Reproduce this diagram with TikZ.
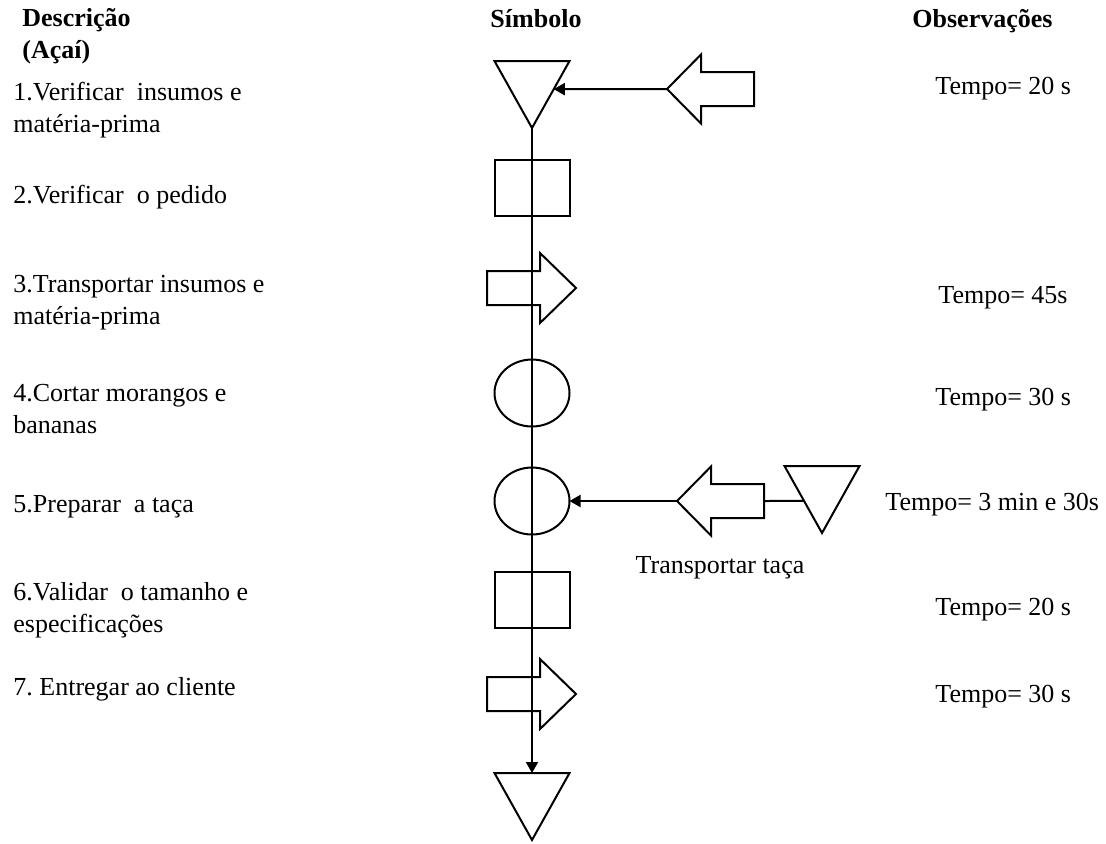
\documentclass[tikz,border=0pt]{standalone}
\usepackage{fontspec}
\setmainfont{Liberation Serif}
\usepackage{tikz}
\usetikzlibrary{shapes.geometric, arrows.meta, positioning, calc}
\frenchspacing

\begin{document}
\begin{tikzpicture}[
    x=0.5pt, y=-0.5pt,
    every node/.style={font=\fontsize{13}{16}\selectfont, inner sep=0pt},
    head/.style={font=\fontsize{13}{16}\selectfont\bfseries},
    desc/.style={anchor=base west, align=left},
    obs/.style={anchor=base west},
    sym/.style={draw, line width=1pt},
    box/.style={sym, rectangle, minimum width=37.5pt, minimum height=28pt, outer sep=0pt},
    oper/.style={sym, ellipse, minimum width=37.5pt, minimum height=33.5pt, outer sep=0pt},
    flow/.style={-{Triangle[length=5.5pt, width=6pt]}, line width=1pt},
    espera/.pic={
        \draw[sym] (-37.5,0) coordinate (-tl) -- (37.5,0) coordinate (-tr)
            -- (0,67) coordinate (-tip) -- cycle;
        \coordinate (-top) at (0,0);
    },
    transp/.pic={
        \draw[sym] (0,0) -- (-36,-35) -- (-36,-17) -- (-89,-17) -- (-89,17)
            -- (-36,17) -- (-36,35) -- cycle;
        \coordinate (-tip) at (0,0);
    },
    transpesq/.pic={
        \draw[sym] (0,0) -- (34,-34.5) -- (34,-17) -- (87,-17) -- (87,17)
            -- (34,17) -- (34,34.5) -- cycle;
        \coordinate (-tip) at (0,0);
        \coordinate (-tail) at (87,0);
    }
]
    \useasboundingbox (0,0) rectangle (1106,843);

    % column headers (base = last line)
    \node[head, desc] (hdesc) at (22,58) {Descrição\\(Açaí)};
    \node[head, anchor=base] (hsimb) at (536,27) {Símbolo};
    \node[head, obs] (hobs) at (912,27) {Observações};

    % symbols
    \pic (esp1) at (532,61) {espera};
    \node[box] (ver2) at (532,188) {};
    \pic (tra3) at (576,288) {transp};
    \node[oper] (cor4) at (532,393) {};
    \node[oper] (pre5) at (532,501) {};
    \node[box] (val6) at (532,600) {};
    \pic (ent7) at (576,694) {transp};
    \pic (esp8) at (532,773) {espera};

    % side branches
    \pic (ins1) at (667,89) {transpesq};
    \pic (taca5) at (677,501) {transpesq};
    \pic (esptaca) at (822,466) {espera};
    \node[anchor=base] (ltaca) at (720,573) {Transportar taça};

    \draw[flow] (esp1-tip) -- (esp8-top);
    \draw[flow] (ins1-tip) -- ($(esp1-tr)!0.42!(esp1-tip)$);
    \draw[flow] (taca5-tip) -- (pre5);
    \draw[line width=1pt] (taca5-tail) -- ($(esptaca-tl)!0.52!(esptaca-tip)$);

    % descriptions (base = last line)
    \node[desc] (d1) at (13,132) {1.Verificar \ insumos e\\matéria-prima};
    \node[desc] (d2) at (13,203) {2.Verificar \ o pedido};
    \node[desc] (d3) at (13,324) {3.Transportar insumos e\\matéria-prima};
    \node[desc] (d4) at (13,433) {4.Cortar morangos e\\bananas};
    \node[desc] (d5) at (13,512) {5.Preparar \ a taça};
    \node[desc] (d6) at (13,632) {6.Validar \ o tamanho e\\especificações};
    \node[desc] (d7) at (13,695) {7. Entregar ao cliente};

    % observations
    \node[obs] (o1) at (935,94) {Tempo= 20 s};
    \node[obs] (o3) at (938,303) {Tempo= 45s};
    \node[obs] (o4) at (935,405) {Tempo= 30 s};
    \node[obs] (o5) at (885,510) {Tempo= 3 min e 30s};
    \node[obs] (o6) at (935,615) {Tempo= 20 s};
    \node[obs] (o7) at (935,702) {Tempo= 30 s};
\end{tikzpicture}
\end{document}
